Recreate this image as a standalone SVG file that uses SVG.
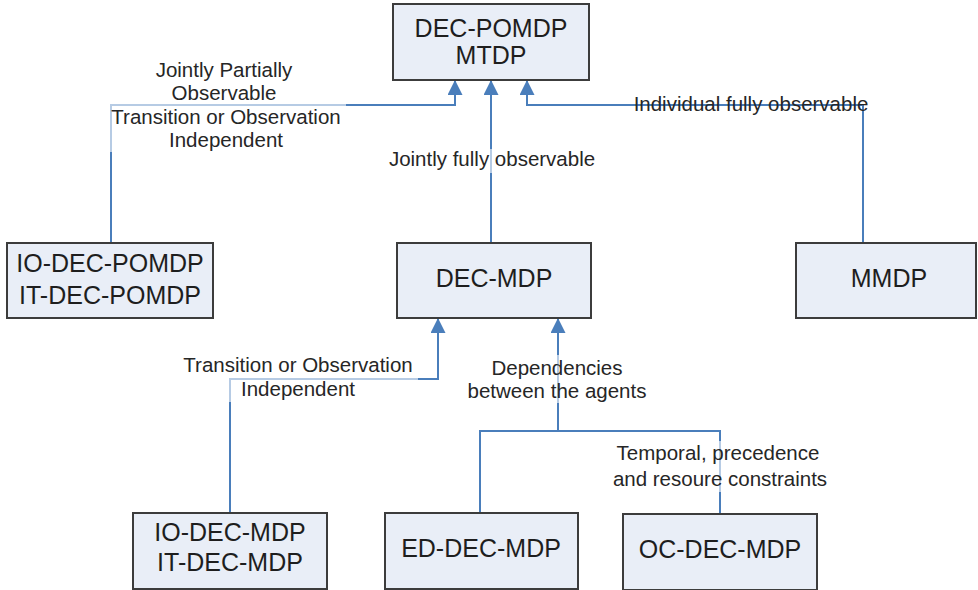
<svg xmlns="http://www.w3.org/2000/svg" width="978" height="590" viewBox="0 0 978 590">
<defs>
<marker id="arr" markerUnits="userSpaceOnUse" markerWidth="16" markerHeight="16" refX="15" refY="7.5" orient="auto">
<path d="M0,0 L15,7.5 L0,15 z" fill="#4A7EBB"/>
</marker>
</defs>
<style>
.box{fill:#E9EEF7;stroke:#3C3C3C;stroke-width:2}
.bt{font-family:"Liberation Sans",Arial,sans-serif;font-size:25px;fill:#1E1E1E;text-anchor:middle}
.lt{font-family:"Liberation Sans",Arial,sans-serif;font-size:20.5px;fill:#262626;text-anchor:middle}
.c{fill:none;stroke:#4A7EBB;stroke-width:2}
.bg{fill:#ffffff;opacity:0.6}
</style>
<rect width="978" height="590" fill="#ffffff"/>
<g id="connectors">
<path class="c" d="M111 243 V105 H455 V80" marker-end="url(#arr)"/>
<path class="c" d="M491 243 V80" marker-end="url(#arr)"/>
<path class="c" d="M863 243 V105 H527 V80" marker-end="url(#arr)"/>
<path class="c" d="M230 513 V379 H438 V318" marker-end="url(#arr)"/>
<path class="c" d="M480 513 V431 H558 V318" marker-end="url(#arr)"/>
<path class="c" d="M720 514 V431 H558"/>
</g>
<g id="labels">
<rect class="bg" x="108" y="58" width="238" height="94"/>
<text class="lt" x="224" y="77">Jointly Partially</text>
<text class="lt" x="224" y="100">Observable</text>
<text class="lt" x="226" y="124">Transition or Observation</text>
<text class="lt" x="226" y="147">Independent</text>
<rect class="bg" x="385" y="149" width="215" height="24"/>
<text class="lt" x="492" y="166">Jointly fully observable</text>
<text class="lt" x="751" y="111">Individual fully observable</text>
<rect class="bg" x="180" y="354" width="238" height="48"/>
<text class="lt" x="298" y="372">Transition or Observation</text>
<text class="lt" x="298" y="396">Independent</text>
<rect class="bg" x="463" y="355" width="188" height="48"/>
<text class="lt" x="557" y="375">Dependencies</text>
<text class="lt" x="557" y="398">between the agents</text>
<rect class="bg" x="608" y="441" width="226" height="51"/>
<text class="lt" x="718" y="460">Temporal, precedence</text>
<text class="lt" x="720" y="486">and resoure constraints</text>
</g>
<g id="dec-pomdp">
<rect class="box" x="393" y="4" width="196" height="76"/>
<text class="bt" x="491" y="37">DEC-POMDP</text>
<text class="bt" x="491" y="64">MTDP</text>
</g>
<g id="io-dec-pomdp">
<rect class="box" x="7" y="243" width="206" height="75"/>
<text class="bt" x="110" y="272">IO-DEC-POMDP</text>
<text class="bt" x="110" y="304">IT-DEC-POMDP</text>
</g>
<g id="dec-mdp">
<rect class="box" x="397" y="243" width="194" height="75"/>
<text class="bt" x="494" y="287">DEC-MDP</text>
</g>
<g id="mmdp">
<rect class="box" x="796" y="243" width="180" height="75"/>
<text class="bt" x="889" y="287">MMDP</text>
</g>
<g id="io-dec-mdp">
<rect class="box" x="133" y="513" width="194" height="76"/>
<text class="bt" x="230" y="541">IO-DEC-MDP</text>
<text class="bt" x="230" y="571">IT-DEC-MDP</text>
</g>
<g id="ed-dec-mdp">
<rect class="box" x="385" y="513" width="193" height="76"/>
<text class="bt" x="481" y="557">ED-DEC-MDP</text>
</g>
<g id="oc-dec-mdp">
<rect class="box" x="623" y="514" width="194" height="76"/>
<text class="bt" x="720" y="558">OC-DEC-MDP</text>
</g>
</svg>
